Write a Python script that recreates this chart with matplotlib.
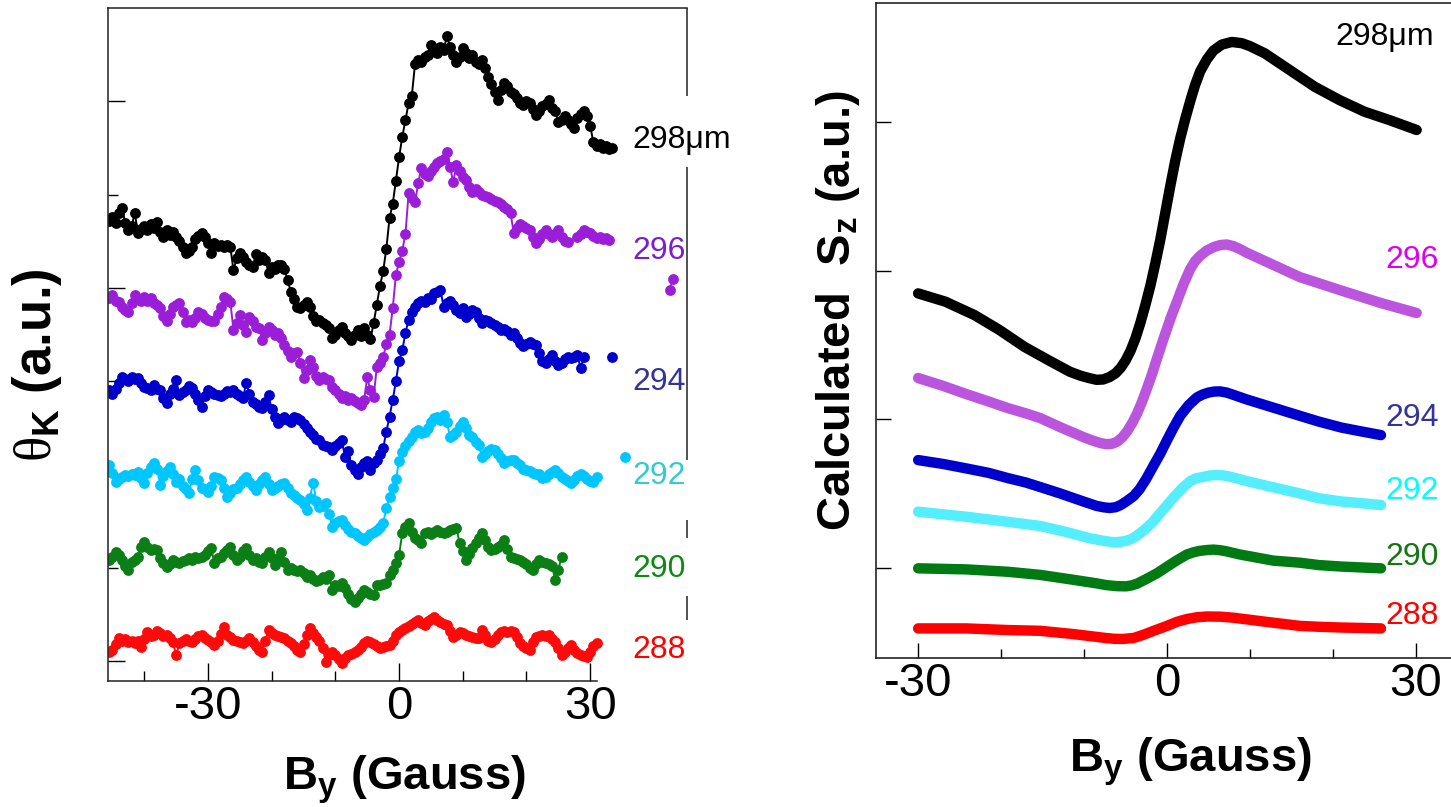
import numpy as np
import matplotlib
matplotlib.use("Agg")
import matplotlib.pyplot as plt

plt.rcParams['font.family'] = ['Liberation Sans', 'DejaVu Sans']
plt.rcParams['mathtext.fontset'] = 'custom'
plt.rcParams['mathtext.rm'] = 'Liberation Serif'
plt.rcParams['mathtext.bf'] = 'Liberation Sans:bold'
plt.rcParams['mathtext.it'] = 'Liberation Sans:italic'
plt.rcParams['axes.unicode_minus'] = False

nan = float('nan')

# ---------------- measured Kerr rotation (left) ----------------
# field swept from -45.5 G in 0.5 G steps; one row = 5 G
B_START = -45.5
B_STEP = 0.5

kerr_298 = [
    4.72, 4.76, 4.70, 4.80, 4.86, 4.70, 4.62, 4.66, 4.80, 4.59,
    4.63, 4.66, 4.62, 4.68, 4.64, 4.71, 4.60, 4.55, 4.62, 4.57,
    4.60, 4.54, 4.50, 4.44, 4.37, 4.40, 4.44, 4.52, 4.56, 4.59,
    4.55, 4.48, 4.37, 4.48, 4.45, 4.46, 4.44, 4.46, 4.44, 4.19,
    4.32, 4.37, 4.33, 4.28, 4.24, 4.22, 4.36, 4.30, 4.33, 4.30,
    4.16, 4.22, 4.20, 4.25, 4.24, 4.20, 4.08, 3.96, 3.88, 3.80,
    3.78, 3.82, 3.85, 3.80, 3.70, 3.64, 3.66, 3.62, 3.60, 3.57,
    3.46, 3.50, 3.55, 3.58, 3.52, 3.48, 3.44, 3.50, 3.55, 3.48,
    3.57, 3.50, 3.45, 3.62, 3.82, 4.02, 4.18, 4.42, 4.75, 4.90,
    5.15, 5.40, 5.62, 5.80, 5.98, 6.06, 6.40, 6.44, 6.42, 6.47,
    6.50, 6.60, 6.55, 6.52, 6.58, 6.55, 6.70, 6.58, 6.50, 6.42,
    6.48, 6.57, 6.52, 6.46, 6.50, 6.42, 6.40, 6.44, 6.36, 6.26,
    6.18, 6.10, 6.01, 6.12, 6.20, 6.16, 6.10, 6.08, 6.04, 5.98,
    5.96, 6.00, 5.98, 5.92, 5.85, 5.90, 5.95, 5.97, 6.01, 5.93,
    5.90, 5.78, 5.80, 5.84, 5.80, 5.76, 5.71, 5.82, 5.86, 5.90,
    5.84, 5.74, 5.56, 5.52, 5.54, 5.50, 5.52, 5.49, 5.50,
]

kerr_296 = [
    3.89, 3.92, 3.86, 3.85, 3.80, 3.76, 3.74, 3.84, 3.92, 3.88,
    3.86, 3.90, 3.86, 3.89, 3.84, 3.82, 3.78, 3.70, 3.65, 3.72,
    3.79, 3.82, 3.84, 3.74, 3.63, 3.66, 3.63, 3.68, 3.74, 3.72,
    3.68, 3.66, 3.64, 3.65, 3.72, 3.79, 3.90, 3.88, 3.85, 3.55,
    3.62, 3.71, 3.60, 3.53, 3.69, 3.64, 3.58, 3.57, 3.44, 3.52,
    3.58, 3.55, 3.50, 3.52, 3.46, 3.39, 3.32, 3.26, 3.30, 3.31,
    3.20, 3.03, 3.12, 3.23, 3.15, 3.06, 3.01, 3.04, 3.02, 3.01,
    2.94, 2.90, 2.86, 2.82, 2.84, 2.80, 2.82, 2.79, 2.77, 2.74,
    2.80, 3.04, 2.90, 2.83, 3.15, 3.20, 3.26, 3.40, 3.50, 3.78,
    4.14, 4.28, 4.40, 4.58, 5.02, 4.96, 4.92, 5.12, 5.29, 5.22,
    5.20, 5.25, 5.30, 5.34, 5.36, 5.38, 5.46, 5.30, 5.13, 5.32,
    5.25, 5.19, 5.16, 5.08, 5.03, 5.06, 5.03, 5.00, 4.98, 4.97,
    4.95, 4.93, 4.92, 4.90, 4.87, 4.85, 4.80, 4.59, 4.64, 4.69,
    4.66, 4.64, 4.62, 4.55, 4.48, 4.52, 4.58, 4.62, 4.58, 4.54,
    4.58, 4.62, 4.55, 4.50, 4.49, nan, nan, 4.55, 4.58, 4.62,
    4.60, 4.59, 4.56, 4.53, 4.55, 4.52, 4.53, 4.51, nan, nan,
    nan, nan, nan, nan, nan, nan, nan, nan, nan, nan,
    nan, nan, nan, nan, nan, nan, 3.98, 4.10,
]

kerr_294 = [
    2.90, 2.86, 2.92, 2.98, 3.04, 3.02, 3.00, 3.04, 3.02, 3.03,
    2.98, 2.94, 2.93, 2.90, 2.96, 2.92, 2.90, 2.82, 2.77, 2.86,
    2.92, 3.01, 2.85, 2.88, 2.90, 2.95, 2.93, 2.86, 2.80, 2.72,
    2.84, 2.90, 2.88, 2.86, 2.85, 2.84, 2.86, 2.89, 2.88, 2.90,
    2.86, 2.84, 2.82, 2.98, 2.86, 2.78, 2.76, 2.72, 2.71, 2.78,
    2.85, 2.70, 2.62, 2.55, 2.58, 2.62, 2.58, 2.56, 2.62, 2.60,
    2.58, 2.54, 2.50, 2.46, 2.42, 2.38, 2.37, 2.32, 2.30, 2.29,
    2.26, 2.30, 2.34, 2.37, 2.19, 2.25, 2.10, 2.05, 2.01, 2.08,
    2.12, 2.14, 2.05, 2.12, 2.16, 2.22, 2.28, 2.46, 2.62, 2.80,
    3.00, 3.22, 3.33, 3.52, 3.66, 3.74, 3.80, 3.84, 3.86, 3.85,
    3.89, 3.88, 3.94, 3.96, 3.98, 3.79, 3.84, 3.86, 3.82, 3.76,
    3.73, 3.78, 3.69, 3.72, 3.76, 3.74, 3.68, 3.62, 3.66, 3.65,
    3.62, 3.60, 3.58, 3.55, 3.56, 3.54, 3.50, 3.52, 3.46, 3.41,
    3.38, 3.40, 3.42, 3.40, 3.39, 3.30, 3.22, 3.19, 3.24, 3.28,
    3.22, 3.17, 3.20, 3.24, 3.26, 3.25, 3.26, 3.28, 3.14, 3.26,
    nan, nan, nan, nan, nan, nan, nan, nan, 3.26,
]

kerr_292 = [
    2.10, 2.02, 1.92, 1.95, 1.97, 1.99, 1.98, 2.01, 1.99, 2.03,
    1.96, 1.91, 2.02, 2.08, 2.12, 2.06, 1.89, 1.98, 2.04, 2.08,
    2.00, 1.92, 1.95, 1.88, 1.84, 1.80, 1.95, 2.05, 1.94, 1.86,
    1.84, 1.81, 1.88, 1.97, 1.96, 1.94, 1.85, 1.76, 1.80, 1.84,
    1.86, 1.90, 1.94, 1.97, 1.92, 1.88, 1.83, 1.90, 1.94, 1.97,
    1.90, 1.83, 1.86, 1.88, 1.90, 1.91, 1.86, 1.80, 1.78, 1.75,
    1.73, 1.68, 1.62, 1.75, 1.91, 1.72, 1.65, 1.66, 1.69, 1.58,
    1.44, 1.48, 1.50, 1.51, 1.46, 1.42, 1.38, 1.37, 1.34, 1.32,
    1.30, 1.33, 1.36, 1.38, 1.40, 1.44, 1.48, 1.64, 1.76, 1.86,
    1.95, 2.14, 2.24, 2.30, 2.36, 2.40, 2.45, 2.48, 2.44, 2.45,
    2.50, 2.56, 2.60, 2.62, 2.58, 2.64, 2.56, 2.40, 2.42, 2.45,
    2.52, 2.56, 2.50, 2.42, 2.40, 2.35, 2.32, 2.19, 2.22, 2.25,
    2.27, 2.26, 2.22, 2.18, 2.12, 2.14, 2.16, 2.15, 2.12, 2.10,
    2.06, 2.05, 2.04, 2.02, 2.01, 2.00, 1.96, 1.97, 2.00, 2.03,
    2.05, 2.02, 1.97, 1.95, 1.93, 1.91, 1.94, 1.98, 2.01, 1.98,
    1.95, 1.93, 1.92, 1.97, nan, nan, nan, nan, nan, nan,
    nan, nan, 2.19,
]

kerr_290 = [
    1.08, 1.12, 1.17, 1.14, 1.08, 1.02, 0.98, 1.06, 1.08, 1.12,
    1.22, 1.28, 1.22, 1.19, 1.20, 1.19, 1.10, 1.05, 1.01, 1.04,
    1.08, 1.06, 1.05, 1.07, 1.08, 1.10, 1.08, 1.12, 1.10, 1.11,
    1.14, 1.18, 1.21, 1.05, 1.10, 1.12, 1.16, 1.19, 1.22, 1.14,
    1.08, 1.12, 1.18, 1.21, 1.14, 1.08, 1.10, 1.06, 1.05, 1.12,
    1.17, 1.10, 1.03, 1.10, 1.17, 1.06, 0.98, 1.00, 0.98, 0.97,
    0.98, 0.94, 0.90, 0.92, 0.88, 0.86, 0.87, 0.90, 0.88, 0.92,
    0.76, 0.82, 0.80, 0.84, 0.78, 0.72, 0.66, 0.63, 0.68, 0.72,
    0.76, 0.74, 0.72, 0.71, 0.81, 0.82, 0.83, 0.84, 0.92, 0.98,
    1.05, 1.14, 1.37, 1.44, 1.48, 1.38, 1.32, 1.30, 1.26, 1.37,
    1.38, 1.36, 1.38, 1.40, 1.38, 1.37, 1.38, 1.40, 1.42, 1.43,
    1.26, 1.18, 1.08, 1.15, 1.21, 1.26, 1.32, 1.37, 1.30, 1.22,
    1.19, 1.20, 1.22, 1.24, 1.30, 1.20, 1.11, 1.10, 1.09, 1.08,
    1.06, 1.04, 1.00, 0.98, 1.04, 1.08, 1.06, 1.05, 1.04, 1.02,
    0.87, 0.98, 1.11,
]

kerr_288 = [
    0.10, 0.12, 0.18, 0.25, 0.22, 0.24, 0.20, 0.21, 0.19, 0.22,
    0.15, 0.24, 0.31, 0.27, 0.28, 0.32, 0.30, 0.27, 0.28, 0.25,
    0.20, 0.06, 0.19, 0.22, 0.24, 0.21, 0.20, 0.24, 0.27, 0.28,
    0.25, 0.23, 0.20, 0.17, 0.22, 0.29, 0.36, 0.28, 0.26, 0.23,
    0.21, 0.20, 0.19, 0.22, 0.25, 0.20, 0.16, 0.12, 0.10, 0.22,
    0.33, 0.30, 0.28, 0.27, 0.26, 0.25, 0.22, 0.19, 0.16, 0.12,
    0.10, 0.18, 0.28, 0.35, 0.30, 0.26, 0.22, 0.14, -0.01, 0.06,
    0.10, 0.06, 0.02, -0.02, 0.03, 0.06, 0.08, 0.10, 0.12, 0.15,
    0.19, 0.22, 0.20, 0.18, 0.16, 0.14, 0.15, 0.16, 0.17, 0.22,
    0.28, 0.31, 0.33, 0.35, 0.38, 0.40, 0.42, 0.44, 0.41, 0.39,
    0.43, 0.45, 0.47, 0.44, 0.42, 0.40, 0.39, 0.32, 0.26, 0.28,
    0.31, 0.30, 0.28, 0.27, 0.26, 0.25, 0.25, 0.33, 0.28, 0.22,
    0.20, 0.24, 0.28, 0.31, 0.32, 0.31, 0.32, 0.31, 0.26, 0.19,
    0.16, 0.14, 0.12, 0.20, 0.26, 0.27, 0.28, 0.27, 0.28, 0.24,
    0.20, 0.14, 0.06, 0.10, 0.14, 0.17, 0.12, 0.09, 0.07, 0.05,
    0.04, 0.10, 0.16, 0.19,
]

exp_series = [kerr_298, kerr_296, kerr_294, kerr_292, kerr_290, kerr_288]
exp_colors = ['#000000', '#9A1ED8', '#0000CC', '#00C6FF', '#0B7F16', '#FF0A0A']
exp_labels = ['298\u03bcm', '296', '294', '292', '290', '288']
exp_label_colors = ['#000000', '#7A1FD0', '#333399', '#33CCCC', '#0E8A12', '#FF0000']

# ---------------- calculated S_z (right) ----------------
calc_B_298 = [-30.0, -26.7, -23.2, -20.2, -17.2, -14.2, -11.7, -10.5, -9.5, -8.5,
              -7.7, -6.9, -6.2, -5.6, -5.0, -4.4, -3.8, -3.2, -2.6, -2.0, -1.4,
              -0.8, -0.2, 0.4, 1.0, 1.6, 2.2, 2.8, 3.4, 4.0, 4.8, 5.6, 6.6, 7.8,
              9.0, 10.0, 11.8, 14.8, 17.8, 20.8, 23.8, 26.8, 30.1]
calc_S_298 = [1.847, 1.791, 1.701, 1.601, 1.488, 1.395, 1.320, 1.295, 1.279, 1.266,
              1.268, 1.285, 1.310, 1.345, 1.395, 1.460, 1.545, 1.650, 1.770, 1.900,
              2.050, 2.210, 2.390, 2.570, 2.740, 2.890, 3.020, 3.140, 3.250, 3.340,
              3.420, 3.480, 3.520, 3.538, 3.530, 3.510, 3.461, 3.349, 3.237, 3.147,
              3.069, 3.013, 2.946]

calc_B_296 = [-30.0, -27.0, -24.2, -21.5, -19.2, -17.0, -15.3, -12.9, -11.3, -10.1,
              -9.0, -8.0, -7.3, -6.6, -6.0, -5.4, -4.8, -4.2, -3.6, -3.0, -2.4,
              -1.8, -1.2, -0.4, 0.4, 1.2, 2.0, 2.8, 3.4, 4.0, 4.8, 5.6, 6.4, 7.2,
              8.0, 8.8, 9.6, 11.2, 12.8, 16.0, 20.8, 25.8, 30.1]
calc_S_296 = [1.278, 1.225, 1.170, 1.120, 1.076, 1.040, 1.009, 0.948, 0.910, 0.881,
              0.858, 0.840, 0.833, 0.836, 0.850, 0.878, 0.920, 0.975, 1.040, 1.120,
              1.210, 1.305, 1.410, 1.545, 1.675, 1.792, 1.910, 2.011, 2.065, 2.100,
              2.135, 2.158, 2.172, 2.176, 2.165, 2.145, 2.121, 2.080, 2.039, 1.957,
              1.870, 1.782, 1.715]

calc_B_294 = [-30.0, -27.0, -24.2, -21.5, -19.2, -17.0, -15.3, -12.9, -10.1, -8.5,
              -7.6, -6.9, -6.2, -5.6, -4.9, -4.0, -3.3, -2.5, -1.7, -0.8, 0.0, 0.8,
              1.6, 2.6, 3.6, 4.3, 5.0, 5.7, 6.4, 7.2, 8.0, 9.6, 12.8, 16.0, 18.3,
              21.0, 23.5, 25.8]
calc_S_294 = [0.726, 0.700, 0.670, 0.640, 0.605, 0.575, 0.545, 0.502, 0.448, 0.418,
              0.408, 0.404, 0.409, 0.423, 0.448, 0.485, 0.530, 0.600, 0.681, 0.770,
              0.859, 0.945, 1.024, 1.095, 1.147, 1.167, 1.180, 1.187, 1.188, 1.180,
              1.165, 1.134, 1.079, 1.024, 0.985, 0.945, 0.918, 0.894]

calc_B_292 = [-30.0, -24.2, -19.2, -15.3, -12.1, -9.3, -7.5, -6.8, -6.1, -5.4,
              -4.8, -4.2, -3.7, -2.7, -1.7, -0.5, 0.8, 1.8, 2.8, 3.5, 4.3, 5.1,
              6.0, 6.9, 7.8, 9.6, 12.8, 16.0, 18.3, 21.0, 25.8]
calc_S_292 = [0.379, 0.345, 0.311, 0.283, 0.242, 0.200, 0.182, 0.176, 0.174, 0.178,
              0.185, 0.198, 0.215, 0.258, 0.311, 0.390, 0.475, 0.535, 0.585, 0.603,
              0.612, 0.622, 0.626, 0.622, 0.612, 0.585, 0.543, 0.502, 0.469, 0.448,
              0.424]

calc_B_290 = [-30.0, -24.2, -19.2, -15.3, -11.3, -8.6, -7.3, -6.0, -4.9, -4.2,
              -3.6, -2.5, -1.2, 0.0, 1.2, 2.4, 3.2, 3.9, 4.8, 5.6, 6.4, 7.2, 8.8,
              12.8, 16.0, 18.3, 21.0, 25.8]
calc_S_290 = [-0.002, -0.009, -0.025, -0.046, -0.079, -0.102, -0.115, -0.122, -0.123,
              -0.116, -0.105, -0.074, -0.035, 0.009, 0.052, 0.091, 0.106, 0.115,
              0.121, 0.124, 0.120, 0.112, 0.091, 0.050, 0.036, 0.020, 0.010, -0.002]

calc_B_288 = [-30.0, -24.2, -19.2, -15.3, -11.3, -7.3, -6.3, -5.3, -4.0, -2.9,
              -1.5, 0.0, 1.2, 2.4, 3.6, 4.8, 6.4, 8.0, 12.0, 16.0, 18.3, 21.0, 25.8]
calc_S_288 = [-0.406, -0.406, -0.417, -0.422, -0.444, -0.471, -0.476, -0.477, -0.470,
              -0.450, -0.420, -0.389, -0.362, -0.343, -0.331, -0.326, -0.327, -0.334,
              -0.362, -0.389, -0.395, -0.400, -0.406]

calc_B = [calc_B_298, calc_B_296, calc_B_294, calc_B_292, calc_B_290, calc_B_288]
calc_S = [calc_S_298, calc_S_296, calc_S_294, calc_S_292, calc_S_290, calc_S_288]
calc_colors = ['#000000', '#BB55DD', '#0000CC', '#55EEFF', '#007A12', '#FF0000']
calc_labels = ['298\u03bcm', '296', '294', '292', '290', '288']
calc_label_colors = ['#000000', '#DD00EE', '#333399', '#00FFFF', '#117711', '#FF0000']

# ---------------- figure ----------------
W, H = 1451, 807
fig = plt.figure(figsize=(W / 100, H / 100), dpi=100)


def frac_box(x0, y0, x1, y1):
    return [x0 / W, 1 - y1 / H, (x1 - x0) / W, (y1 - y0) / H]


ax1 = fig.add_axes(frac_box(108, 8, 687, 681))
ax2 = fig.add_axes(frac_box(876, 3, 1451, 658))

# left panel: measured traces
for vals, col in zip(exp_series, exp_colors):
    y = np.array(vals, dtype=float)
    x = B_START + B_STEP * np.arange(len(y))
    ax1.plot(x, y, '-o', color=col, lw=1.4, ms=7.8, mew=0)

ax1.set_xlim(-45.7, 45.2)
ax1.set_ylim(-0.214, 7.0)
ax1.set_xticks([-30, 0, 30])
ax1.set_xticklabels(['-30', '0', '30'])
ax1.set_xticks([-40, -20, -10, 10, 20], minor=True)
ax1.set_yticks([0, 2, 4, 6])
ax1.set_yticks([1, 3, 5], minor=True)
ax1.tick_params(axis='x', which='major', direction='in', length=13, width=1.0,
                labelsize=34, pad=3)
ax1.tick_params(axis='x', which='minor', direction='in', length=7, width=1.0)
ax1.tick_params(axis='y', which='major', direction='in', length=12, width=1.0,
                labelleft=False)
ax1.tick_params(axis='y', which='minor', direction='in', length=7, width=1.0)
for sp in ax1.spines.values():
    sp.set_linewidth(1.1)
    sp.set_color('#222222')
ax1.spines['bottom'].set_bounds(-45.7, 31.1)
ax1.spines['right'].set_visible(False)
# right frame edge, interrupted behind the curve labels
for ya, yb in [(0.869, 1.0), (0.328, 0.764), (0.212, 0.239), (0.091, 0.126)]:
    ax1.plot([1, 1], [ya, yb], transform=ax1.transAxes, color='#222222',
             lw=1.1, clip_on=False, solid_capstyle='butt')

label_u = [5.58, 4.40, 2.99, 1.98, 0.99, 0.12]
for txt, col, yv in zip(exp_labels, exp_label_colors, label_u):
    ax1.text(36.6, yv, txt, color=col, fontsize=23, ha='left', va='center')

# right panel: calculated curves
for bx, sv, col in zip(calc_B, calc_S, calc_colors):
    ax2.plot(bx, sv, '-', color=col, lw=7.5, solid_capstyle='round',
             solid_joinstyle='round')

ax2.set_xlim(-35.08, 34.24)
ax2.set_ylim(-0.605, 3.80)
ax2.set_xticks([-30, 0, 30])
ax2.set_xticklabels(['-30', '0', '30'])
ax2.set_xticks([-20, -10, 10, 20], minor=True)
ax2.set_yticks([0, 1, 2, 3])
ax2.tick_params(axis='x', which='major', direction='in', length=11, width=1.0,
                labelsize=34, pad=3)
ax2.tick_params(axis='x', which='minor', direction='in', length=6.5, width=1.0)
ax2.tick_params(axis='y', which='major', direction='in', length=11, width=1.0,
                labelleft=False)
for sp in ax2.spines.values():
    sp.set_linewidth(1.2)
    sp.set_color('#222222')
ax2.spines['right'].set_visible(False)

calc_label_pos = [(20.3, 3.571), (26.3, 2.071), (26.3, 1.009), (26.3, 0.518),
                  (26.3, 0.074), (26.3, -0.323)]
for txt, col, (bx, sv) in zip(calc_labels, calc_label_colors, calc_label_pos):
    ax2.text(bx, sv, txt, color=col, fontsize=23, ha='left', va='center')

# axis titles
fig.text(404 / W, 1 - 790 / H, r'$\mathbf{B}_\mathbf{y}$ (Gauss)', fontsize=34,
         fontweight='bold', ha='center', va='baseline')
fig.text(1190 / W, 1 - 772 / H, r'$\mathbf{B}_\mathbf{y}$ (Gauss)', fontsize=34,
         fontweight='bold', ha='center', va='baseline')
fig.text(37 / W, 1 - 365 / H, r'$\mathrm{\theta}_\mathbf{K}$ (a.u.)', fontsize=38,
         fontweight='bold', rotation=90, ha='center', va='center')
fig.text(838 / W, 1 - 311 / H, r'Calculated  $\mathbf{S}_\mathbf{z}$ (a.u.)',
         fontsize=34, fontweight='bold', rotation=90, ha='center', va='center')

fig.savefig('out.png', dpi=100)
